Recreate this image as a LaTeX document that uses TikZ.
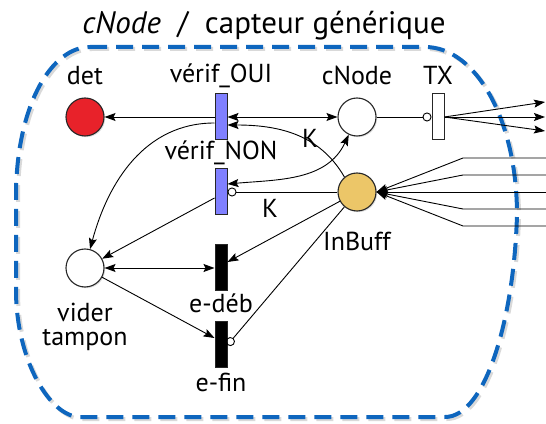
\documentclass[tikz,border=0pt]{standalone}
\usepackage{fontspec}
\setmainfont{PT Sans}
\usetikzlibrary{arrows.meta,shadows}

\definecolor{boxblue}{RGB}{14,102,190}
\definecolor{detred}{RGB}{232,34,42}
\definecolor{buffyellow}{RGB}{236,198,104}
\definecolor{trblue}{RGB}{128,128,255}

\tikzset{
  place/.style={circle, draw=black!85, line width=1.1pt, minimum size=38pt,
    inner sep=0pt, fill=white,
    drop shadow={opacity=0.25, shadow xshift=1.2pt, shadow yshift=-1.2pt}},
  trans/.style={rectangle, draw=black!85, line width=1pt, minimum width=12pt,
    minimum height=46pt, inner sep=0pt},
  lbl/.style={anchor=base, inner sep=0pt, font=\fontsize{26}{30}\selectfont},
  tip/.style={line width=0.9pt},
  arc/.style={tip, -{Stealth[length=11pt,width=8pt,inset=2pt]}},
  biarc/.style={tip, {Stealth[length=11pt,width=8pt,inset=2pt]}-{Stealth[length=11pt,width=8pt,inset=2pt]}},
  inhib/.style={tip, -{Circle[open,length=9pt,width=9pt]}},
  boxline/.style={line width=4pt, dash pattern=on 17pt off 9pt},
}

\def\boxpath{(90,376) -- (425,376) .. controls (476,376) and (517,303) .. (517,208)
  .. controls (514,103) and (485,6) .. (445,6) -- (80,6)
  .. controls (50,6) and (16,63) .. (16,133) -- (16,233)
  .. controls (18,320) and (52,376) .. (90,376)}

\begin{document}
\begin{tikzpicture}[x=1pt,y=1pt]
  \useasboundingbox (0,0) rectangle (546,423);

  % dashed frame with its shadow
  \draw[boxline, black!15, shift={(2,-2)}] \boxpath;
  \draw[boxline, boxblue] \boxpath;
  \node[lbl, font=\fontsize{31}{36}\selectfont] (title) at (264,389)
    {\textit{cNode}\ \ /\ \ capteur\ générique};

  % places and transitions
  \node[place, fill=detred] (det) at (85,306) {};
  \node[trans, fill=trblue] (vOUI) at (221,306) {};
  \node[place] (cnode) at (357,306) {};
  \node[trans, fill=white] (tx) at (438,306) {};
  \node[trans, fill=trblue] (vNON) at (221,231) {};
  \node[place, fill=buffyellow] (inbuff) at (357,231) {};
  \node[place] (vider) at (85,155) {};
  \node[trans, fill=black] (edeb) at (221,155) {};
  \node[trans, fill=black] (efin) at (221,78) {};

  % labels
  \node[lbl] (det-lbl) at (85,338) {det};
  \node[lbl] (vOUI-lbl) at (221,340) {vérif\_OUI};
  \node[lbl] (cnode-lbl) at (357,338) {cNode};
  \node[lbl] (tx-lbl) at (438,338) {TX};
  \node[lbl] (vNON-lbl) at (221,263) {vérif\_NON};
  \node[lbl] (inbuff-lbl) at (357,172) {InBuff};
  \node[lbl] (vider-lbl) at (85,101) {vider};
  \node[lbl] (tampon-lbl) at (85,77) {tampon};
  \node[lbl] (edeb-lbl) at (221,110) {e-déb};
  \node[lbl] (efin-lbl) at (221,31) {e-fin};
  \node[lbl, anchor=center] (k1) at (310,285) {K};
  \node[lbl, anchor=center] (k2) at (270,215) {K};

  % arcs
  \draw[arc] (vOUI.west) -- (det);
  \draw[biarc] (vOUI.east) -- (cnode);
  \draw[arc] (inbuff.130) to[out=120,in=0] ([yshift=-8pt]vOUI.east);
  \draw[arc] ([yshift=-6pt]vOUI.west) to[out=180,in=75] (vider);
  \draw[biarc] ([yshift=8pt]vNON.east) to[out=5,in=-115] (cnode);
  \draw[inhib] (inbuff) -- (vNON.east);
  \draw[arc] ([yshift=-6pt]vNON.west) -- (vider);
  \draw[biarc] (vider) -- (edeb);
  \draw[arc] (inbuff) -- ([yshift=6pt]edeb.east);
  \draw[arc] (vider) -- ([yshift=7pt]efin.west);
  \draw[inhib] (inbuff) -- (efin.east);
  \draw[inhib] (cnode) -- (tx.west);

  % outputs of TX
  \foreach \y [count=\i] in {321,306,292} {
    \coordinate (out\i) at (545,\y);
    \draw[arc] (tx.east) -- (out\i);
  }
  % inputs of InBuff
  \coordinate (in3) at (546,231);
  \draw[arc] (in3) -- (inbuff);
  \foreach \y [count=\i] in {265,248,214,197} {
    \coordinate (in-\i) at (546,\y);
    \draw[arc] (in-\i) -- ++(-83,0) -- (inbuff.east);
  }
\end{tikzpicture}
\end{document}
